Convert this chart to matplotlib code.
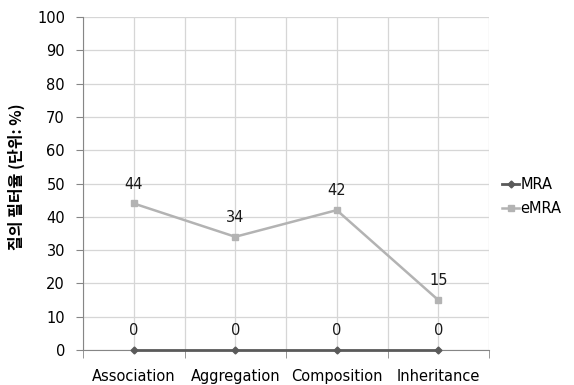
import matplotlib.pyplot as plt
import numpy as np

plt.rcParams['font.family'] = ['DejaVu Sans', 'Noto Sans CJK KR']

# Chart data
categories = ['Association', 'Aggregation', 'Composition', 'Inheritance']
mra = [0, 0, 0, 0]
emra = [44, 34, 42, 15]
y_ticks = list(range(0, 101, 10))

fig = plt.figure(figsize=(5.74, 3.85), dpi=100)
ax = fig.add_axes([83 / 574, 35 / 385, 406 / 574, 333 / 385])

x = np.arange(len(categories))

ax.plot(x, mra, color='#5A5A5A', marker='D', markersize=3.5, linewidth=2, label='MRA',
        zorder=3, clip_on=False)
ax.plot(x, emra, color='#B3B3B3', marker='s', markersize=5, linewidth=1.8, label='eMRA',
        zorder=3, clip_on=False)

# data labels
for i in range(len(categories)):
    ax.text(x[i], mra[i] + 5.8, str(mra[i]), ha='center', va='center', fontsize=10.5, color='#1a1a1a')
    ax.text(x[i], emra[i] + 5.8, str(emra[i]), ha='center', va='center', fontsize=10.5, color='#1a1a1a')

ax.set_xlim(-0.5, len(categories) - 0.5)
ax.set_ylim(0, 100)
ax.set_yticks(y_ticks)
ax.set_xticks(x)
ax.set_xticklabels(categories, fontsize=10.5)
ax.set_xticks(np.arange(-0.5, len(categories), 1), minor=True)

# grid lines at every tick and category boundary
ax.grid(True, which='major', color='#D6D6D6', linewidth=0.9)
ax.grid(True, which='minor', axis='x', color='#D6D6D6', linewidth=0.9)
ax.set_axisbelow(True)

for s in ['top', 'right']:
    ax.spines[s].set_visible(False)
ax.spines['left'].set_color('#868686')
ax.spines['bottom'].set_color('#868686')

ax.tick_params(axis='y', which='major', length=5, color='#868686', labelsize=10.5, pad=8)
ax.tick_params(axis='x', which='major', length=0, pad=14)
ax.tick_params(axis='x', which='minor', length=6, color='#868686')

ax.set_ylabel('질의 필터율 (단위: %)', fontsize=11.5, fontweight='bold',
              family=['Noto Sans CJK KR', 'DejaVu Sans'])
ax.yaxis.set_label_coords(-0.143, 0.52)

ax.legend(loc='center left', bbox_to_anchor=(1.0, 0.46), frameon=False, fontsize=10.5,
          handlelength=1.15, handletextpad=0.1, labelspacing=0.6)

fig.savefig('out.png', dpi=100)
